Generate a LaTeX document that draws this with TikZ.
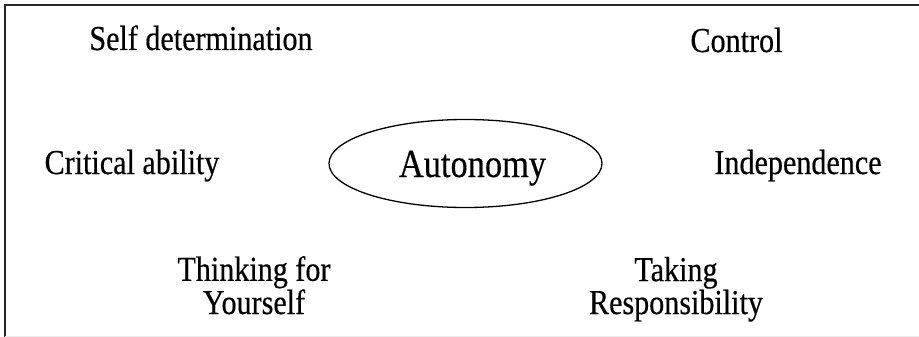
\documentclass[tikz,border=0pt]{standalone}
\usepackage{fontspec}
\setmainfont{Liberation Serif}[FakeStretch=0.86,FakeBold=0.4]
\usetikzlibrary{shapes.geometric}
\begin{document}
\begin{tikzpicture}[x=1pt,y=-1pt,
  term/.style={inner sep=0pt,anchor=base,align=center,
    font=\fontsize{35}{30}\selectfont},
  hub/.style={inner sep=0pt,anchor=base,font=\fontsize{40}{40}\selectfont},
  ring/.style={ellipse,draw,line width=1.3pt,minimum width=273pt,minimum height=88pt,inner sep=0pt},
  frame/.style={line width=1.4pt,black!85}]
\useasboundingbox (0,0) rectangle (919,337);
% open frame: top and left edges, faint base line
\coordinate (tl) at (5,5);
\coordinate (tr) at (919,5);
\coordinate (bl) at (5,337);
\coordinate (bf1) at (5,336);
\coordinate (bf2) at (919,336);
\draw[frame] (tr) -- (tl) -- (bl);
\draw[black!8,line width=1pt] (bf1) -- (bf2);
% central concept
\node[ring] (hubring) at (465.5,163.5) {};
\node[hub] (autonomy) at (472.5,177) {Autonomy};
% surrounding terms
\node[term] (selfdet) at (201,50) {Self determination};
\node[term] (control) at (736.5,52) {Control};
\node[term] (critical) at (132,174) {Critical ability};
\node[term] (indep) at (798,174) {Independence};
\node[term] (thinking) at (254,314) {Thinking for\\Yourself};
\node[term] (taking) at (676,314) {Taking\\Responsibility};
\end{tikzpicture}
\end{document}
